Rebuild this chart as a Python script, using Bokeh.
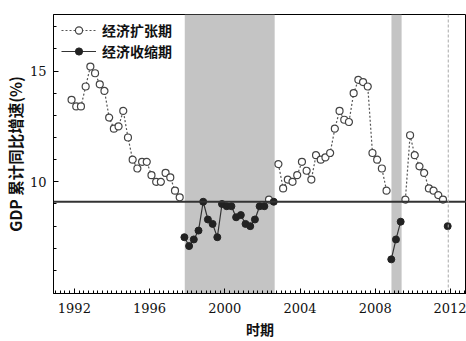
import numpy as np
from bokeh.plotting import figure
from bokeh.models import (BoxAnnotation, Span, FixedTicker,
                          SingleIntervalTicker, Range1d, ColumnDataSource)
from bokeh.embed import file_html
from bokeh.resources import INLINE

# ---- data -----------------------------------------------------------
# quarterly periods 1992Q1 .. 2012Q1
period_year = [y for y in range(1992, 2013) for _ in range(4)][:81]
period_quarter = [q for _ in range(1992, 2013) for q in range(1, 5)][:81]

N = None
# cumulative y/y GDP growth (%) in expansion quarters
expansion = [
    13.7, 13.4, 13.4, 14.3,   # 1992
    15.2, 14.9, 14.4, 14.1,   # 1993
    12.9, 12.4, 12.5, 13.2,   # 1994
    12.0, 11.0, 10.6, 10.9,   # 1995
    10.9, 10.3, 10.0, 10.0,   # 1996
    10.4, 10.2, 9.6, 9.3,     # 1997
    N, N, N, N,               # 1998
    N, N, N, N,               # 1999
    N, N, N, N,               # 2000
    N, N, N, N,               # 2001
    N, N, 9.2, N,             # 2002
    10.8, 9.7, 10.1, 10.0,    # 2003
    10.3, 10.9, 10.5, 10.1,   # 2004
    11.2, 11.0, 11.1, 11.3,   # 2005
    12.4, 13.2, 12.8, 12.7,   # 2006
    14.0, 14.6, 14.5, 14.3,   # 2007
    11.3, 11.0, 10.6, 9.6,    # 2008
    N, N, N, 9.2,             # 2009
    12.1, 11.2, 10.7, 10.4,   # 2010
    9.7, 9.6, 9.4, 9.2,       # 2011
    N,                        # 2012
]
# cumulative y/y GDP growth (%) in contraction quarters
contraction = [
    N, N, N, N,               # 1992
    N, N, N, N,               # 1993
    N, N, N, N,               # 1994
    N, N, N, N,               # 1995
    N, N, N, N,               # 1996
    N, N, N, N,               # 1997
    7.5, 7.1, 7.4, 7.8,       # 1998
    9.1, 8.3, 8.1, 7.5,       # 1999
    9.0, 8.9, 8.9, 8.4,       # 2000
    8.5, 8.1, 8.0, 8.3,       # 2001
    8.9, 8.9, N, 9.1,         # 2002
    N, N, N, N,               # 2003
    N, N, N, N,               # 2004
    N, N, N, N,               # 2005
    N, N, N, N,               # 2006
    N, N, N, N,               # 2007
    N, N, N, N,               # 2008
    6.5, 7.4, 8.2, N,         # 2009
    N, N, N, N,               # 2010
    N, N, N, N,               # 2011
    8.0,                      # 2012
]
average_growth = 9.1
shaded_periods = [(1997.87, 2002.65), (2008.86, 2009.4)]
marker_year = 2011.88
x_tick_labels = ["1992", "1996", "2000", "2004", "2008", "2012"]
y_tick_values = [10, 15]

# position of each quarter on the time axis, as drawn in the reference
x_pos = np.array(period_year) + (np.array(period_quarter) - 1) / 4 - 0.15

src = ColumnDataSource(dict(
    x=x_pos,
    exp=np.array(expansion, dtype=float),
    con=np.array(contraction, dtype=float),
))

SERIF = "DejaVu Serif"
CJK = "Noto Sans CJK SC"

# ---- figure ---------------------------------------------------------
p = figure(width=466, height=341, output_backend="svg", toolbar_location=None,
           x_range=Range1d(1990.89, 2012.85), y_range=Range1d(4.96, 17.55),
           min_border_left=51, min_border_right=0, min_border_top=14,
           min_border_bottom=46)
p.background_fill_color = "white"
p.border_fill_color = "white"
p.outline_line_color = "black"
p.outline_line_width = 1
p.xgrid.visible = False
p.ygrid.visible = False

for (a, b) in shaded_periods:
    p.add_layout(BoxAnnotation(left=a, right=b, fill_color="#c4c4c4",
                               fill_alpha=1.0, line_color=None,
                               level="underlay"))

p.add_layout(Span(location=average_growth, dimension="width",
                  line_color="#333333", line_width=2))
p.add_layout(Span(location=marker_year, dimension="height",
                  line_color="#a8a8a8", line_width=1, line_dash="3 2"))

p.line("x", "exp", source=src, line_color="#555555", line_width=1.2,
       line_dash="2 2", legend_label="经济扩张期")
p.scatter("x", "exp", source=src, marker="circle", size=7,
          fill_color="white", line_color="#444444", line_width=1.2,
          legend_label="经济扩张期")
p.line("x", "con", source=src, line_color="#333333", line_width=1.2,
       legend_label="经济收缩期")
p.scatter("x", "con", source=src, marker="circle", size=7,
          fill_color="#222222", line_color="#222222",
          legend_label="经济收缩期")

# axes
p.xaxis.ticker = SingleIntervalTicker(interval=4, num_minor_ticks=16)
p.yaxis.ticker = FixedTicker(ticks=y_tick_values,
                             minor_ticks=[6, 7, 8, 9, 11, 12, 13, 14, 16, 17])
for ax in (p.xaxis[0], p.yaxis[0]):
    ax.axis_line_color = "black"
    ax.major_tick_line_color = "black"
    ax.minor_tick_line_color = "black"
    ax.major_tick_out = 0
    ax.minor_tick_out = 0
    ax.major_tick_in = 5
    ax.minor_tick_in = 3
    ax.major_label_text_font = SERIF
    ax.major_label_text_font_size = "13px"
    ax.major_label_text_color = "#111111"
    ax.axis_label_text_font = CJK
    ax.axis_label_text_font_style = "bold"
    ax.axis_label_text_color = "#111111"
p.xaxis.axis_label_text_font_size = "14px"
p.yaxis.axis_label_text_font_size = "15.5px"
p.xaxis.major_label_standoff = 9
p.yaxis.major_label_standoff = 7
p.xaxis.major_label_overrides = {int(t): t for t in x_tick_labels}

p.xaxis.axis_label = "时期"
p.xaxis.axis_label_standoff = 3
p.yaxis.axis_label = "GDP 累计同比增速(%)"
p.yaxis.axis_label_standoff = 1

# legend
lg = p.legend[0]
lg.location = (8, 232)
lg.border_line_color = None
lg.background_fill_alpha = 0
lg.label_text_font = CJK
lg.label_text_font_size = "14px"
lg.label_text_font_style = "bold"
lg.label_text_color = "#111111"
lg.glyph_width = 35
lg.glyph_height = 18
lg.label_height = 18
lg.spacing = 1
lg.margin = 0
lg.padding = 4
lg.label_standoff = 6

open("out.html", "w").write(file_html(p, INLINE))
